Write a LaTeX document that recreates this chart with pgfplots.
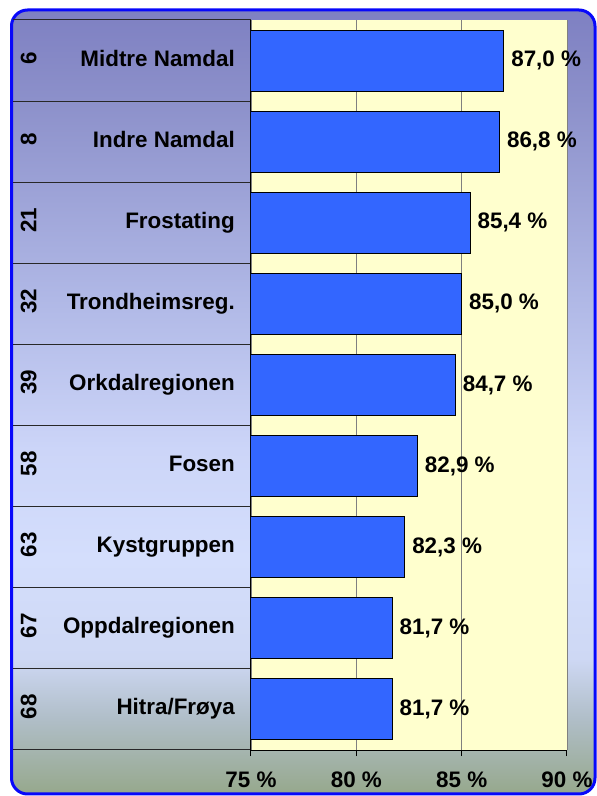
\documentclass[border=0pt]{standalone}
\usepackage{pgfplots}
\pgfplotsset{compat=1.18}
\usepackage{fontspec}
\setmainfont{Liberation Sans}
\usepackage{graphicx}

\definecolor{bgtop}{RGB}{126,128,194}
\definecolor{bgc6}{RGB}{140,144,202}
\definecolor{bgc5}{RGB}{176,184,230}
\definecolor{bgc4}{RGB}{204,213,248}
\definecolor{bgc3}{RGB}{212,222,252}
\definecolor{bgc2}{RGB}{206,216,244}
\definecolor{bgc1}{RGB}{176,190,200}
\definecolor{bgbot}{RGB}{150,168,140}
\definecolor{framblue}{RGB}{8,8,250}
\definecolor{barblue}{RGB}{51,102,255}
\definecolor{plotyellow}{RGB}{255,255,206}
\definecolor{sepline}{RGB}{40,40,40}

\pgfdeclareverticalshading{bgshade}{100bp}{color(0bp)=(bgbot); color(25bp)=(bgbot); color(29.8bp)=(bgc1); color(33.65bp)=(bgc2); color(40bp)=(bgc3); color(47bp)=(bgc4); color(56.55bp)=(bgc5); color(69.3bp)=(bgc6); color(75bp)=(bgtop); color(100bp)=(bgtop)}

\newcommand{\lab}[2]{\makebox[215pt][l]{\hspace*{1pt}\raisebox{\dimexpr 8pt-0.5\height\relax}{\rotatebox{90}{#1}}\hfill #2}}
\newcommand{\bigbf}{\fontsize{22.4}{26}\selectfont\bfseries}

\begin{document}
\begin{tikzpicture}[x=1pt,y=1pt]
\path (0,0) rectangle (597,796);
\shade[shading=bgshade, draw=framblue, line width=3pt, rounded corners=16pt] (11.5,2) rectangle (595,786);
\foreach \k in {0,...,9} {
  \draw[sepline, line width=1pt] (13,{46+\k*730/9}) -- (251,{46+\k*730/9});
}
\begin{axis}[
  at={(251pt,46pt)}, anchor=south west,
  scale only axis, width=316pt, height=730pt,
  xbar, bar width=61pt,
  xmin=75, xmax=90, ymin=0.5, ymax=9.5, y dir=reverse,
  enlargelimits=false,
  axis background/.style={fill=plotyellow},
  axis x line*=bottom, axis y line*=left,
  axis line style={black, line width=1pt},
  xtick={75,80,85,90},
  xticklabel={\pgfmathprintnumber{\tick}~\%},
  /pgf/number format/assume math mode=true,
  xticklabel style={font=\bigbf, inner sep=0pt, anchor=north, yshift=-16pt},
  tick align=outside, major tick length=6pt,
  xtick style={black, line width=1pt},
  xmajorgrids, major grid style={gray, line width=0.8pt},
  ytick={1,...,9},
  ytick style={draw=none},
  yticklabels={\lab{6}{Midtre Namdal},\lab{8}{Indre Namdal},\lab{21}{Frostating},\lab{32}{Trondheimsreg.},\lab{39}{Orkdalregionen},\lab{58}{Fosen},\lab{63}{Kystgruppen},\lab{67}{Oppdalregionen},\lab{68}{Hitra/Frøya}},
  yticklabel style={font=\bigbf, inner sep=0pt, anchor=east, xshift=-10pt, text height=16pt, text depth=5pt},
  point meta=x,
  nodes near coords={\pgfmathprintnumber[fixed,fixed zerofill,precision=1,use comma,assume math mode=true]{\pgfplotspointmeta}~\%},
  nodes near coords style={font=\bigbf, anchor=west, inner sep=0pt, xshift=7pt, black},
]
\addplot[fill=barblue, draw=black, line width=1pt] coordinates {
  (87.0,1) (86.8,2) (85.4,3) (85.0,4) (84.7,5) (82.9,6) (82.3,7) (81.7,8) (81.7,9)
};
\end{axis}
\end{tikzpicture}
\end{document}
